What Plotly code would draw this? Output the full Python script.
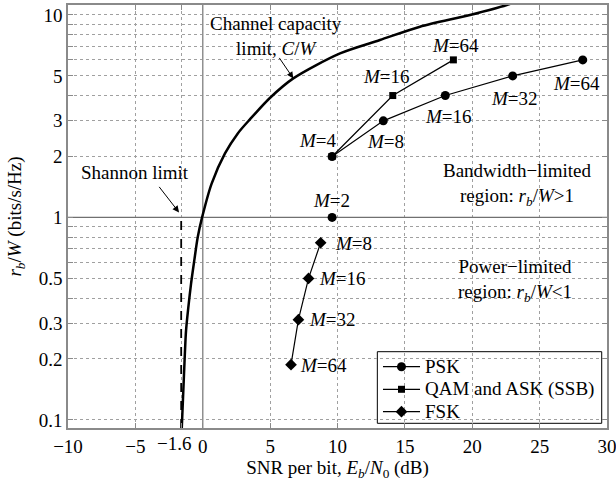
import numpy as np
import plotly.graph_objects as go

# ---- data ----
cap_snr = [-1.56, -1.39, -1.24, -1.07, -0.87, -0.63, -0.37, -0.05, 0.66, 1.65, 2.6, 3.5, 5.0, 6.72, 10.19, 13.15, 16.12, 19.83, 22.56, 23.5]
cap_r = [0.090, 0.169, 0.276, 0.36, 0.47, 0.612, 0.80, 1.0, 1.47, 2.07, 2.6, 3.05, 3.9, 4.86, 6.46, 7.52, 8.75, 10.0, 11.2, 11.8]

series_names = ["PSK", "QAM and ASK (SSB)", "FSK"]

psk_M = ["4", "8", "16", "32", "64"]
psk_snr = [9.6, 13.4, 18.0, 23.0, 28.2]
psk_r = [2, 3, 4, 5, 6]

psk2_M = ["2"]
psk2_snr = [9.6]
psk2_r = [1]

qam_M = ["4", "16", "64"]
qam_snr = [9.6, 14.1, 18.6]
qam_r = [2, 4, 6]

fsk_M = ["8", "16", "32", "64"]
fsk_snr = [8.75, 7.85, 7.1, 6.55]
fsk_r = [0.75, 0.5, 0.3125, 0.1875]

x_ticks = [-10, -5, 0, 5, 10, 15, 20, 25, 30]
x_ticktext = ["\u221210", "\u22125", "0", "5", "10", "15", "20", "25", "30"]
x_minor = [-1.6]
x_minor_text = "\u22121.6"
y_ticks = [0.1, 0.2, 0.3, 0.5, 1, 2, 3, 5, 10]
y_ticktext = ["0.1", "0.2", "0.3", "0.5", "1", "2", "3", "5", "10"]
y_minor = [0.4, 0.6, 0.7, 0.8, 0.9, 4, 6, 7, 8, 9]

X_RANGE = [-10, 30]
Y_MIN, Y_MAX = 0.0912, 11.2

FONT = "Liberation Serif, Times New Roman, serif"
FS = 19
GRAY = "#8a8a8a"
GRID = "#a0a0a0"

fig = go.Figure()

# reference lines
fig.add_trace(go.Scatter(x=X_RANGE, y=[1, 1], mode="lines", line=dict(color="#707070", width=1.3),
                         showlegend=False, hoverinfo="skip"))
fig.add_trace(go.Scatter(x=[0, 0], y=[Y_MIN, Y_MAX], mode="lines", line=dict(color="#909090", width=1.5),
                         showlegend=False, hoverinfo="skip"))
fig.add_trace(go.Scatter(x=[-1.6, -1.6], y=[Y_MIN, 1], mode="lines",
                         line=dict(color="black", width=1.8, dash="dash"),
                         showlegend=False, hoverinfo="skip"))

# capacity curve
fig.add_trace(go.Scatter(x=cap_snr, y=cap_r, mode="lines",
                         line=dict(color="black", width=2.5, shape="spline", smoothing=0.8),
                         showlegend=False, hoverinfo="skip"))

MK = {"PSK": dict(symbol="circle", size=9), "QAM and ASK (SSB)": dict(symbol="square", size=7),
      "FSK": dict(symbol="diamond", size=9)}

fig.add_trace(go.Scatter(x=psk2_snr, y=psk2_r, mode="markers",
                         marker=dict(color="black", **MK["PSK"]), showlegend=False))
for nm, xs, ys in zip(series_names, [psk_snr, qam_snr, fsk_snr], [psk_r, qam_r, fsk_r]):
    fig.add_trace(go.Scatter(x=xs, y=ys, mode="lines+markers", name=nm, showlegend=False,
                             line=dict(color="black", width=1.2),
                             marker=dict(color="black", **MK[nm])))

# ---- hand-made legend (paper coords through an overlay axis) ----
leg_y = [0.1449, 0.0915, 0.0385]
for nm, yy in zip(series_names, leg_y):
    fig.add_trace(go.Scatter(x=[0.5844, 0.6531], y=[yy, yy], mode="lines", xaxis="x2", yaxis="y2",
                             line=dict(color="black", width=1.2), showlegend=False, hoverinfo="skip"))
    fig.add_trace(go.Scatter(x=[0.6187], y=[yy], mode="markers", xaxis="x2", yaxis="y2",
                             marker=dict(color="black", **MK[nm]), showlegend=False, hoverinfo="skip"))

def L(v):
    return float(np.log10(v))

def mlab(n):
    return "<i>M</i>=" + n

ann = []
tf = dict(family=FONT, size=FS, color="black")

def text(x, y, t, xanchor="center"):
    ann.append(dict(x=x, y=L(y), text=t, showarrow=False, xanchor=xanchor, yanchor="middle", font=tf))

# point labels
text(9.57, 1.214, mlab(psk2_M[0]))
psk_lab_pos = [(8.55, 2.405), (13.53, 2.36), (18.27, 3.14), (23.10, 3.87), (27.70, 4.59)]
for m, (lx, ly) in zip(psk_M, psk_lab_pos):
    text(lx, ly, mlab(m))
qam_lab_pos = [(13.60, 4.95), (18.79, 7.10)]
for m, (lx, ly) in zip(qam_M[1:], qam_lab_pos):
    text(lx, ly, mlab(m))
fsk_lab_pos = [(9.67, 0.746), (8.46, 0.497), (7.71, 0.312), (7.09, 0.185)]
for m, (lx, ly) in zip(fsk_M, fsk_lab_pos):
    text(lx, ly, mlab(m), "left")

# region texts
text(5.44, 7.87, "Channel capacity<br>limit, <i>C</i>/<i>W</i>")
text(-5.03, 1.676, "Shannon limit")
text(23.30, 1.457, "Bandwidth\u2212limited<br>region: <i>r</i><sub><i>b</i></sub>/<i>W</i>>1")
text(23.17, 0.4875, "Power\u2212limited<br>region: <i>r</i><sub><i>b</i></sub>/<i>W</i><1")

# arrows
ann.append(dict(x=6.72, y=L(4.86), ax=-15, ay=-22, text="", showarrow=True,
                arrowhead=2, arrowsize=1.3, arrowwidth=1, arrowcolor="black"))
ann.append(dict(x=-1.76, y=L(1.059), ax=-21, ay=-27, text="", showarrow=True,
                arrowhead=2, arrowsize=1.3, arrowwidth=1, arrowcolor="black"))

# tick label for the -1.6 minor tick (placed slightly left, as in the reference)
ann.append(dict(x=x_minor[0] - 0.5, y=-0.0355, xref="x", yref="paper", text=x_minor_text, showarrow=False,
                xanchor="center", yanchor="middle", font=tf))

# legend texts
for nm, yy in zip(series_names, leg_y):
    ann.append(dict(x=0.6586, y=yy, xref="paper", yref="paper", text=nm, showarrow=False,
                    xanchor="left", yanchor="middle", font=tf))

minor_common = dict(showgrid=True, gridcolor=GRID, griddash="dot", gridwidth=1,
                    ticks="inside", ticklen=5, tickcolor=GRAY)

fig.update_layout(
    width=616, height=481,
    margin=dict(l=68, r=9, t=5, b=53),
    paper_bgcolor="white", plot_bgcolor="white",
    font=dict(family=FONT, size=FS, color="black"),
    annotations=ann,
    showlegend=False,
    shapes=[dict(type="rect", xref="paper", yref="paper", x0=0.5739, x1=0.9902, y0=0.0111, y1=0.1804,
                 line=dict(color="black", width=1), fillcolor="white", layer="between")],
    xaxis=dict(range=X_RANGE, tickmode="array", tickvals=x_ticks, ticktext=x_ticktext, tickangle=0,
               ticklabeloverflow="allow",
               showgrid=True, gridcolor=GRID, griddash="dot", gridwidth=1,
               minor=dict(tickmode="array", tickvals=x_minor, **minor_common),
               showline=True, linecolor=GRAY, linewidth=1.5, mirror="ticks",
               ticks="inside", ticklen=5, tickcolor=GRAY, zeroline=False, automargin=False,
               tickfont=dict(family=FONT, size=FS),
               title=dict(text="SNR per bit, <i>E</i><sub><i>b</i></sub>/<i>N</i><sub>0</sub> (dB)",
                          standoff=0, font=dict(family=FONT, size=FS))),
    yaxis=dict(type="log", range=[L(Y_MIN), L(Y_MAX)], tickmode="array", tickvals=y_ticks, ticktext=y_ticktext,
               showgrid=True, gridcolor=GRID, griddash="dot", gridwidth=1,
               minor=dict(tickmode="array", tickvals=y_minor, **minor_common),
               showline=True, linecolor=GRAY, linewidth=1.5, mirror="ticks",
               ticks="inside", ticklen=5, tickcolor=GRAY, zeroline=False, automargin=False,
               tickfont=dict(family=FONT, size=FS),
               title=dict(text="<i>r</i><sub><i>b</i></sub>/<i>W</i> (bits/s/Hz)",
                          standoff=12, font=dict(family=FONT, size=FS))),
    xaxis2=dict(overlaying="x", range=[0, 1], visible=False, fixedrange=True),
    yaxis2=dict(overlaying="y", range=[0, 1], visible=False, fixedrange=True),
)

fig.write_html("out.html")
